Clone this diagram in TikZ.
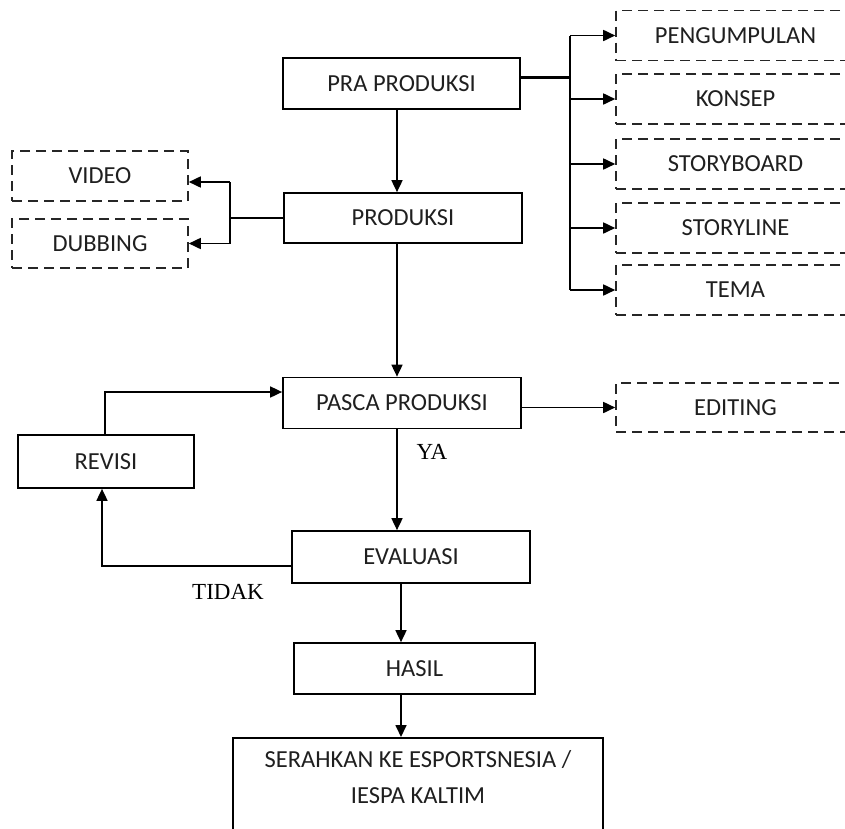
\documentclass[tikz,border=0pt]{standalone}
\usepackage{fontspec}
\setmainfont{Carlito}
\newfontfamily\serifx{Liberation Serif}
\usetikzlibrary{arrows.meta,calc}
\begin{document}
\begin{tikzpicture}[x=1pt,y=-1pt,
  every node/.style={font=\fontsize{24.5}{30}\selectfont, text=black!88},
  solidbox/.style={draw=black, line width=1.7pt, minimum height=51pt, inner sep=0pt},
  dashbox/.style={draw=black!85, line width=1.6pt, dash pattern=on 10pt off 6pt, minimum height=50pt, inner sep=0pt},
  conn/.style={draw=black, line width=1.7pt},
  arr/.style={conn, -{Triangle[length=12pt,width=11pt]}},
  lbl/.style={font=\serifx\fontsize{23}{28}\selectfont, text=black}
]
\useasboundingbox (0,0) rectangle (845,828);
% main boxes
\node[solidbox, minimum width=237pt] (pra) at (401.5,83.5) {PRA PRODUKSI};
\node[solidbox, minimum width=238pt, minimum height=50pt] (prod) at (403,218) {PRODUKSI};
\node[solidbox, minimum width=238pt] (pasca) at (402,403) {PASCA PRODUKSI};
\node[solidbox, minimum width=238pt, minimum height=52pt] (eval) at (411,557) {EVALUASI};
\node[solidbox, minimum width=176pt, minimum height=53pt] (revisi) at (106,461.5) {REVISI};
\node[solidbox, minimum width=241pt] (hasil) at (414.5,668.5) {HASIL};
\node[solidbox, minimum width=370pt, minimum height=130pt, anchor=north] (final) at (418,737) {};
\node[align=center, anchor=north, inner sep=0pt] (finaltxt) at ($(final.north)+(0,13)$) {SERAHKAN KE ESPORTSNESIA /\\[6pt] IESPA KALTIM};
% dashed boxes right
\node[dashbox, minimum width=239pt] (peng) at (735.5,35.5) {PENGUMPULAN};
\node[dashbox, minimum width=239pt] (konsep) at (735.5,99) {KONSEP};
\node[dashbox, minimum width=239pt] (sboard) at (735.5,164) {STORYBOARD};
\node[dashbox, minimum width=239pt] (sline) at (735.5,228) {STORYLINE};
\node[dashbox, minimum width=239pt] (tema) at (735.5,290) {TEMA};
\node[dashbox, minimum width=239pt, minimum height=49pt] (edit) at (735.5,407.5) {EDITING};
% dashed boxes left
\node[dashbox, minimum width=176pt] (video) at (100,176) {VIDEO};
\node[dashbox, minimum width=176pt, minimum height=49pt] (dub) at (100,243.5) {DUBBING};
% coordinates
\coordinate (bx) at (570,0);
\coordinate (lx) at (230,0);
\coordinate (cxa) at (397,0);
\coordinate (cxb) at (401,0);
% PRA branch
\draw[conn, line width=3pt] ([yshift=6pt]pra.east) -- ([yshift=6pt]pra.east -| bx);
\draw[conn] (peng.west -| bx) -- (tema.west -| bx);
\draw[conn, line width=2.8pt] ([yshift=6pt]pra.east -| bx) -- (sboard.west -| bx);
\foreach \n in {peng,konsep,sboard,sline,tema}
  \draw[arr] (\n.west -| bx) -- (\n.west);
% main flow
\draw[arr] (pra.south -| cxa) -- (prod.north -| cxa);
\draw[arr] (prod.south -| cxa) -- (pasca.north -| cxa);
\draw[arr] (pasca.south -| cxa) -- (eval.north -| cxa);
\draw[arr] (eval.south -| cxb) -- (hasil.north -| cxb);
\draw[arr] (hasil.south -| cxb) -- (final.north -| cxb);
% produksi branch
\draw[conn] (prod.west) -- (prod.west -| lx);
\draw[conn] ([yshift=-6pt]video.east -| lx) -- (dub.east -| lx);
\draw[arr] ([yshift=-6pt]video.east -| lx) -- ([yshift=-6pt]video.east);
\draw[arr] (dub.east -| lx) -- (dub.east);
% editing
\draw[arr] (pasca.east |- edit.west) -- (edit.west);
% revision loop
\draw[arr] ([xshift=-1pt]revisi.north) |- ([yshift=11pt]pasca.west);
\draw[arr] ([yshift=-9pt]eval.west) -| ([xshift=-4pt]revisi.south);
% labels
\node[lbl] (ya) at (432,452) {YA};
\node[lbl] (tidak) at (228,592) {TIDAK};
\end{tikzpicture}
\end{document}
